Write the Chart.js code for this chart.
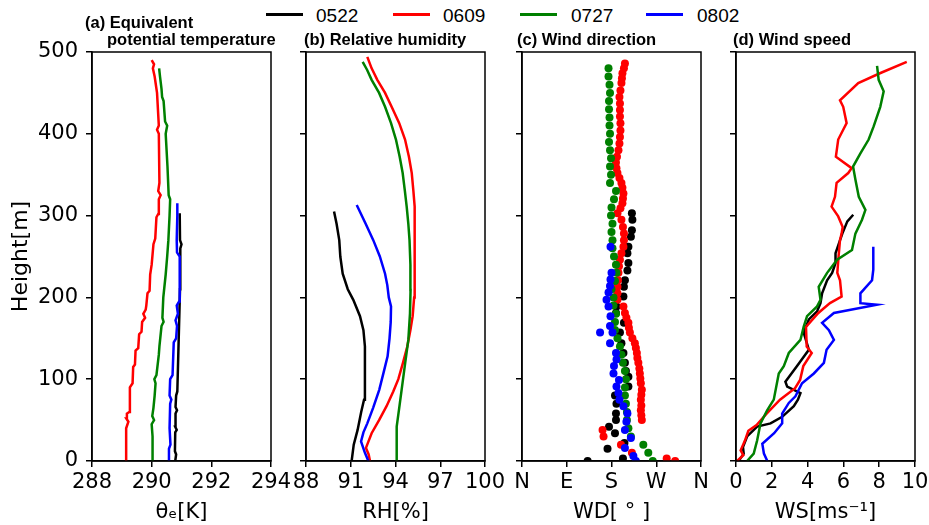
<!DOCTYPE html>
<html>
<head>
<meta charset="utf-8">
<script src="https://cdn.jsdelivr.net/npm/chart.js@4.4.0/dist/chart.umd.min.js"></script>
<style>
  body { margin: 0; width: 929px; height: 525px; overflow: hidden; background: #fff; position: relative; font-family: "Liberation Sans", Arial, sans-serif; }
  canvas { position: absolute; left: 0; top: 0; }
  .ttl { position: absolute; font-weight: bold; font-size: 16.5px; line-height: 16.5px; white-space: nowrap; color: #000; }
  .leg { position: absolute; top: 6px; font-size: 19px; line-height: 19px; color: #000; }
  .sw { position: absolute; top: 13px; height: 3px; width: 37px; }
</style>
</head>
<body>
<div class="sw" style="left:266px;background:#000"></div><div class="leg" style="left:316px">0522</div>
<div class="sw" style="left:393px;background:#ff0000"></div><div class="leg" style="left:443px">0609</div>
<div class="sw" style="left:520px;background:#008000"></div><div class="leg" style="left:571px">0727</div>
<div class="sw" style="left:646px;background:#0000ff"></div><div class="leg" style="left:697px">0802</div>

<canvas id="pa" width="960" height="525"></canvas>
<canvas id="pb" width="960" height="525"></canvas>
<canvas id="pc" width="960" height="525"></canvas>
<canvas id="pd" width="960" height="525"></canvas>

<div class="ttl" style="left:85px;top:14px">(a) Equivalent</div>
<div class="ttl" style="left:107px;top:31px">potential temperature</div>
<div class="ttl" style="left:304px;top:31px">(b) Relative humidity</div>
<div class="ttl" style="left:517px;top:31px">(c) Wind direction</div>
<div class="ttl" style="left:733px;top:31px">(d) Wind speed</div>

<script>
const dates = ["0522", "0609", "0727", "0802"];
const colors = ["#000000", "#ff0000", "#008000", "#0000ff"];

// (a) equivalent potential temperature [K]
const thH0522 = [0, 8, 12, 35, 38, 42, 58, 62, 66, 80, 85, 210, 230, 260, 265, 270, 303];
const thV0522 = [290.79, 290.82, 290.78, 290.79, 290.84, 290.79, 290.8, 290.85, 290.8, 290.82, 290.86, 290.95, 290.97, 290.95, 291.0, 290.95, 290.94];
const thH0609 = [0, 20, 40, 48, 52, 58, 60, 90, 95, 115, 118, 135, 138, 155, 158, 170, 175, 180, 185, 190, 205, 208, 228, 240, 265, 272, 298, 302, 320, 325, 330, 340, 400, 405, 410, 450, 470, 480, 485, 490];
const thV0609 = [289.14, 289.14, 289.15, 289.22, 289.15, 289.17, 289.25, 289.27, 289.36, 289.38, 289.44, 289.46, 289.55, 289.58, 289.66, 289.68, 289.78, 289.72, 289.8, 289.82, 289.86, 289.93, 289.95, 290.0, 290.06, 290.12, 290.16, 290.22, 290.24, 290.3, 290.22, 290.26, 290.24, 290.18, 290.24, 290.18, 290.1, 290.04, 290.08, 290.0];
const thH0727 = [0, 30, 45, 50, 55, 65, 80, 95, 100, 105, 130, 140, 165, 170, 175, 200, 228, 250, 270, 300, 320, 325, 360, 400, 410, 415, 440, 445, 455, 470, 480];
const thV0727 = [290.03, 290.03, 290.0, 290.08, 290.02, 290.06, 290.1, 290.13, 290.09, 290.16, 290.24, 290.26, 290.33, 290.4, 290.36, 290.39, 290.47, 290.52, 290.56, 290.6, 290.62, 290.57, 290.53, 290.47, 290.52, 290.45, 290.4, 290.35, 290.33, 290.28, 290.25];
const thH0802 = [0, 15, 20, 40, 70, 75, 80, 100, 105, 145, 150, 165, 172, 180, 190, 195, 250, 255, 270, 300, 315];
const thV0802 = [290.55, 290.58, 290.63, 290.6, 290.62, 290.66, 290.6, 290.62, 290.7, 290.74, 290.82, 290.85, 290.8, 290.88, 290.84, 290.92, 290.94, 290.85, 290.84, 290.86, 290.86];

// (b) relative humidity [%]
const rhH0522 = [0, 20, 38, 60, 75, 100, 140, 160, 177, 197, 210, 229, 250, 270, 290, 305];
const rhV0522 = [91.06, 91.2, 91.46, 91.7, 91.89, 91.95, 91.95, 91.85, 91.62, 91.17, 90.8, 90.46, 90.3, 90.23, 90.05, 89.88];
const rhH0609 = [0, 8, 16, 34, 50, 67, 85, 100, 120, 140, 160, 177, 200, 230, 250, 280, 311, 330, 352, 372, 393, 413, 433, 450, 466, 480, 494];
const rhV0609 = [92.29, 92.2, 92.02, 92.4, 92.9, 93.4, 93.85, 94.19, 94.5, 94.79, 95.0, 95.15, 95.25, 95.3, 95.3, 95.28, 95.26, 95.2, 95.09, 94.9, 94.64, 94.25, 93.74, 93.3, 92.78, 92.4, 92.11];
const rhH0727 = [0, 20, 42, 65, 87, 120, 148, 180, 209, 240, 270, 290, 311, 330, 352, 372, 393, 413, 433, 450, 466, 478, 488];
const rhV0727 = [94.08, 94.08, 94.08, 94.25, 94.41, 94.65, 94.86, 94.97, 95.01, 95.0, 94.94, 94.86, 94.75, 94.63, 94.48, 94.28, 94.03, 93.7, 93.3, 92.9, 92.4, 92.1, 91.8];
const rhH0802 = [0, 10, 24, 35, 46, 65, 87, 108, 128, 150, 170, 189, 200, 215, 229, 250, 270, 290, 313];
const rhV0802 = [92.18, 91.95, 91.69, 91.85, 92.11, 92.5, 92.91, 93.2, 93.47, 93.6, 93.68, 93.7, 93.55, 93.45, 93.3, 92.95, 92.51, 92.0, 91.4];

// (c) wind direction [deg]
const wdH0522 = [0, 3, 15, 22, 34, 42, 50, 58, 70, 80, 91, 103, 110, 120, 132, 144, 157, 169, 181, 189, 201, 213, 221, 233, 242, 254, 262, 274, 282, 295, 303];
const wdV0522 = [132, 203, 172, 206, 187, 175, 189, 189, 190, 187, 214, 214, 209, 207, 204, 200, 197, 205, 189, 190, 204, 205, 207, 212, 214, 212, 214, 219, 221, 222, 221];
const wdH0609 = [0, 3, 10, 20, 30, 38, 50, 56, 62, 68, 75, 81, 87, 95, 101, 107, 113, 120, 126, 132, 138, 144, 150, 157, 163, 169, 175, 181, 189, 197, 205, 213, 221, 230, 238, 246, 254, 262, 270, 278, 286, 295, 303, 309, 315, 321, 327, 334, 340, 346, 352, 358, 365, 372, 380, 388, 396, 404, 413, 421, 429, 437, 445, 453, 462, 468, 474, 480, 486];
const wdV0609 = [308, 291, 221, 199, 164, 162, 241, 240, 239, 240, 239, 240, 241, 239, 238, 237, 236, 234, 232, 231, 229, 227, 222, 217, 215, 214, 210, 207, 204, 192, 192, 192, 193, 194, 195, 197, 200, 204, 205, 205, 203, 200, 192, 198, 202, 203, 204, 202, 200, 196, 192, 190, 189, 191, 194, 196, 197, 198, 198, 197, 197, 197, 196, 198, 200, 201, 202, 205, 207];
const wdH0727 = [0, 10, 20, 30, 40, 50, 60, 70, 80, 90, 100, 110, 120, 130, 140, 150, 160, 170, 180, 190, 200, 210, 220, 230, 240, 250, 260, 270, 280, 290, 300, 310, 320, 330, 340, 350, 360, 370, 380, 390, 400, 410, 420, 430, 440, 450, 460, 470, 480];
const wdV0727 = [263, 254, 244, 219, 214, 211, 211, 209, 207, 207, 209, 207, 203, 200, 197, 192, 187, 187, 189, 184, 184, 180, 187, 190, 189, 185, 182, 182, 180, 182, 179, 180, 185, 189, 177, 179, 177, 179, 177, 175, 177, 176, 176, 175, 175, 177, 176, 174, 174];
const wdH0802 = [0, 6, 16, 28, 38, 48, 58, 67, 75, 83, 91, 99, 107, 116, 124, 132, 144, 157, 157, 165, 177, 189, 197, 206, 214, 222, 230, 262];
const wdV0802 = [229, 224, 207, 219, 207, 210, 212, 204, 196, 194, 190, 195, 184, 185, 190, 189, 177, 157, 182, 177, 178, 174, 170, 174, 177, 178, 180, 178];

// (d) wind speed [m/s]
const wsH0522 = [0, 9, 17, 30, 42, 46, 54, 67, 75, 83, 91, 97, 116, 136, 157, 173, 183, 193, 205, 221, 230, 242, 254, 266, 278, 293, 301];
const wsV0522 = [0.15, 0.43, 0.39, 0.62, 1.18, 1.93, 2.58, 3.23, 3.46, 3.6, 2.86, 2.76, 3.41, 4.07, 3.78, 4.07, 4.53, 4.72, 4.81, 5.09, 5.37, 5.56, 5.56, 5.75, 5.94, 6.22, 6.55];
const wsH0609 = [0, 7, 13, 25, 37, 44, 58, 75, 89, 99, 116, 132, 140, 164, 181, 193, 201, 221, 230, 250, 270, 278, 286, 299, 311, 323, 340, 352, 358, 372, 393, 413, 433, 441, 462, 474, 488];
const wsV0609 = [0.06, 0.41, 0.26, 0.5, 0.69, 1.15, 1.71, 2.46, 3.3, 3.58, 3.76, 4.23, 3.95, 3.91, 4.6, 5.25, 5.9, 5.81, 5.66, 5.73, 5.81, 5.9, 5.96, 5.71, 5.34, 5.53, 5.62, 6.27, 6.46, 5.58, 5.71, 6.18, 5.99, 5.81, 6.83, 8.04, 9.54];
const wsH0727 = [0, 9, 25, 46, 62, 75, 107, 116, 132, 148, 164, 177, 189, 197, 213, 230, 246, 258, 278, 295, 307, 323, 344, 360, 376, 393, 409, 433, 452, 466, 483];
const wsV0727 = [0.62, 0.99, 1.18, 1.37, 1.74, 2.11, 2.39, 2.67, 2.95, 3.6, 3.78, 3.97, 4.53, 4.72, 4.62, 5.09, 5.65, 6.48, 6.67, 7.04, 7.23, 6.86, 6.67, 6.54, 6.95, 7.41, 7.69, 8.06, 8.25, 7.97, 7.88];
const wsH0802 = [0, 9, 21, 34, 46, 58, 71, 79, 95, 107, 120, 136, 148, 160, 169, 181, 191, 193, 205, 221, 234, 262];
const wsV0802 = [1.75, 1.56, 1.47, 2.13, 2.58, 2.58, 2.95, 3.32, 3.69, 4.35, 4.91, 5.06, 5.47, 5.19, 4.81, 5.47, 7.88, 6.95, 6.95, 7.6, 7.67, 7.67];

const wdTickLabels = { 0: "N", 90: "E", 180: "S", 270: "W", 360: "N" };

function pts(hs, vs) {
  return hs.map((h, i) => ({ x: vs[i], y: h }));
}

// box round each panel
const frame = {
  id: "frame",
  afterDraw(chart) {
    const { ctx, chartArea: a } = chart;
    ctx.save();
    ctx.strokeStyle = "#000";
    ctx.lineWidth = 1.5;
    ctx.strokeRect(a.left, a.top, a.right - a.left, a.bottom - a.top);
    ctx.restore();
  }
};

const tickFont = { family: "DejaVu Sans", size: 21 };

function makePanel(id, o) {
  const datasets = o.series.map((s, i) => ({
    label: dates[i],
    data: pts(s[0], s[1]),
    borderColor: colors[i],
    backgroundColor: colors[i],
    showLine: !o.dots,
    borderWidth: o.dots ? 0 : 2.5,
    pointRadius: o.dots ? 4 : 0,
    order: 3 - i
  }));
  return new Chart(document.getElementById(id), {
    type: "scatter",
    data: { datasets: datasets },
    options: {
      responsive: false,
      animation: false,
      layout: { padding: { left: o.left - o.yw, right: 960 - o.right, top: 52, bottom: 0 } },
      plugins: { legend: { display: false }, tooltip: { enabled: false } },
      scales: {
        x: {
          type: "linear",
          min: o.min,
          max: o.max,
          ticks: {
            stepSize: o.step,
            font: tickFont,
            color: "#000",
            padding: 3,
            maxRotation: 0,
            autoSkip: false,
            callback: o.labels ? (v) => o.labels[v] : (v) => v
          },
          grid: { drawOnChartArea: false, color: "#000", lineWidth: 1.5, tickLength: 6 },
          border: { color: "#000", width: 1.5 },
          title: { display: true, text: o.xtitle, font: tickFont, color: "#000", padding: { top: 0, bottom: 0 } },
          afterFit: (s) => { s.height = 64; }
        },
        y: {
          type: "linear",
          min: 0,
          max: 500,
          ticks: {
            stepSize: 100,
            display: o.ylabels,
            font: tickFont,
            color: "#000",
            padding: 8
          },
          grid: { drawOnChartArea: false, color: "#000", lineWidth: 1.5, tickLength: 6 },
          border: { color: "#000", width: 1.5 },
          title: { display: o.ylabels, text: "Height[m]", font: { family: "DejaVu Sans", size: 22 }, color: "#000", padding: { top: 0, bottom: 0 } },
          afterFit: (s) => { s.width = o.yw; }
        }
      }
    },
    plugins: [frame]
  });
}

makePanel("pa", {
  left: 92, right: 271, yw: 84, ylabels: true,
  min: 288, max: 294, step: 2, xtitle: "θₑ[K]",
  series: [[thH0522, thV0522], [thH0609, thV0609], [thH0727, thV0727], [thH0802, thV0802]]
});
makePanel("pb", {
  left: 306, right: 485, yw: 6, ylabels: false,
  min: 88, max: 100, step: 3, xtitle: "RH[%]",
  series: [[rhH0522, rhV0522], [rhH0609, rhV0609], [rhH0727, rhV0727], [rhH0802, rhV0802]]
});
makePanel("pc", {
  left: 522, right: 701, yw: 6, ylabels: false, dots: true,
  min: 0, max: 360, step: 90, xtitle: "WD[ ° ]", labels: wdTickLabels,
  series: [[wdH0522, wdV0522], [wdH0609, wdV0609], [wdH0727, wdV0727], [wdH0802, wdV0802]]
});
makePanel("pd", {
  left: 736, right: 915, yw: 6, ylabels: false,
  min: 0, max: 10, step: 2, xtitle: "WS[ms⁻¹]",
  series: [[wsH0522, wsV0522], [wsH0609, wsV0609], [wsH0727, wsV0727], [wsH0802, wsV0802]]
});
</script>
</body>
</html>
